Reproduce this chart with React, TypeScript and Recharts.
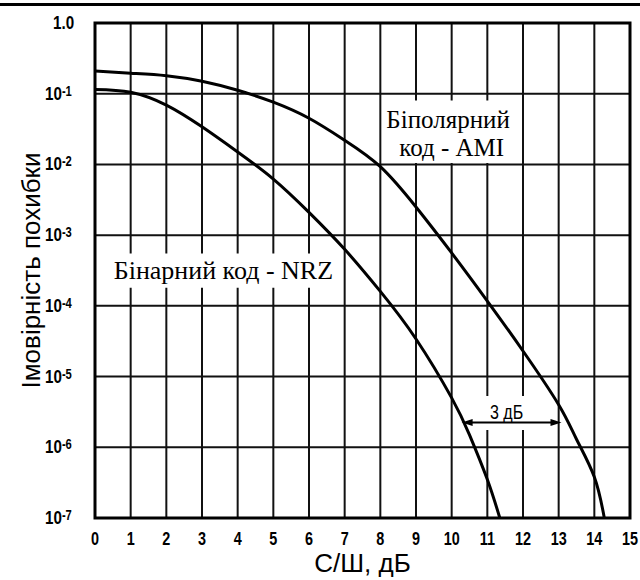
import {
  LineChart,
  Line,
  XAxis,
  YAxis,
  CartesianGrid,
  ReferenceArea,
  ReferenceDot,
  ReferenceLine,
  Label,
} from "recharts";

// С/Ш (дБ) і ймовірність похибки
const nrzSnr = [0, 1, 2, 3, 4, 5, 6, 7, 8, 9, 10, 10.5, 11, 11.35];
const nrzBer = [
  0.115, 0.105, 0.069, 0.034, 0.015, 0.0062, 0.0021, 6.3e-4, 1.6e-4, 3.4e-5,
  5.0e-6, 1.5e-6, 3.5e-7, 1.0e-7,
];

const amiSnr = [0, 1, 2, 3, 4, 5, 6, 7, 8, 9, 10, 11, 12, 13, 13.5, 14, 14.28];
const amiBer = [
  0.21, 0.195, 0.18, 0.15, 0.112, 0.076, 0.045, 0.022, 0.0093, 0.0025, 5.6e-4,
  1.17e-4, 2.3e-5, 4.0e-6, 1.3e-6, 3.8e-7, 1.0e-7,
];

const xTicks = [0, 1, 2, 3, 4, 5, 6, 7, 8, 9, 10, 11, 12, 13, 14, 15];
const yTicks = [1e-7, 1e-6, 1e-5, 1e-4, 1e-3, 1e-2, 1e-1, 1];

const nrzData = nrzSnr.map((snr, i) => ({ snr, p: nrzBer[i] }));
const amiData = amiSnr.map((snr, i) => ({ snr, p: amiBer[i] }));

const sans = "'Liberation Sans', Arial, sans-serif";
const serif = "'Liberation Serif', 'DejaVu Serif', serif";

// вузький напівжирний шрифт підписів осей (імітація Arial Narrow)
function Narrow({ x, y, anchor, size, weight = 700, children }: any) {
  return (
    <g transform={`translate(${x},${y}) scale(0.8,1)`}>
      <text
        x={0}
        y={0}
        textAnchor={anchor}
        style={{ fontFamily: sans, fontSize: size, fontWeight: weight }}
        fill="#000"
      >
        {children}
      </text>
    </g>
  );
}

function XTick({ x, payload }: any) {
  return (
    <Narrow x={x} y={545} anchor="middle" size={18}>
      {payload.value}
    </Narrow>
  );
}

function YTick({ y, payload }: any) {
  const v = payload.value;
  if (v === 1) {
    return (
      <Narrow x={53} y={y + 6} anchor="start" size={19}>
        1.0
      </Narrow>
    );
  }
  const exp = Math.round(Math.log10(v));
  return (
    <Narrow x={45} y={y + 6} anchor="start" size={19}>
      10
      <tspan style={{ fontSize: 14 }} dy={-4}>
        {exp}
      </tspan>
    </Narrow>
  );
}

function note(text: string, size: number) {
  return (p: any) => (
    <text
      x={p.cx}
      y={p.cy}
      textAnchor="middle"
      dominantBaseline="central"
      style={{ fontFamily: serif, fontSize: size }}
      fill="#000"
    >
      {text}
    </text>
  );
}

function Arrow(p: any) {
  const { x1, y1, x2, y2 } = p;
  return (
    <g>
      <line x1={x1 + 6} y1={y1} x2={x2 - 6} y2={y2} stroke="#000" strokeWidth={2} />
      <polygon points={`${x1},${y1} ${x1 + 11},${y1 - 3.5} ${x1 + 11},${y1 + 3.5}`} fill="#000" />
      <polygon points={`${x2},${y2} ${x2 - 11},${y2 - 3.5} ${x2 - 11},${y2 + 3.5}`} fill="#000" />
    </g>
  );
}

export default function App() {
  return (
    <div style={{ position: "absolute", left: 0, top: 0, width: 640, height: 580, background: "#fff" }}>
      <div style={{ position: "absolute", left: 0, top: 3, width: 640, height: 3, background: "#000" }} />
      <LineChart
        width={640}
        height={580}
        margin={{ top: 23, right: 10, bottom: 0, left: 0 }}
      >
        <CartesianGrid stroke="#111" strokeWidth={2} />
        <XAxis
          dataKey="snr"
          type="number"
          domain={[0, 15]}
          ticks={xTicks}
          height={62}
          axisLine={false}
          tickLine={false}
          tick={<XTick />}
          allowDataOverflow
        >
          <Label
            content={(p: any) => (
              <text
                x={p.viewBox.x + p.viewBox.width / 2}
                y={572}
                textAnchor="middle"
                style={{ fontFamily: sans, fontSize: 26 }}
                fill="#000"
              >
                С/Ш, дБ
              </text>
            )}
          />
        </XAxis>
        <YAxis
          type="number"
          scale="log"
          domain={[1e-7, 1]}
          ticks={yTicks}
          width={95}
          axisLine={false}
          tickLine={false}
          tick={<YTick />}
          allowDataOverflow
        >
          <Label
            content={(p: any) => {
              const cy = p.viewBox.y + p.viewBox.height / 2;
              return (
                <text
                  x={31}
                  y={cy}
                  transform={`rotate(-90, 31, ${cy})`}
                  textAnchor="middle"
                  dominantBaseline="central"
                  style={{ fontFamily: sans, fontSize: 26 }}
                  fill="#000"
                >
                  Імовірність похибки
                </text>
              );
            }}
          />
        </YAxis>

        <ReferenceArea x1={8.06} x2={11.94} y1={0.0105} y2={0.08} fill="#fff" fillOpacity={1} stroke="none" />
        <ReferenceArea x1={0.05} x2={6.95} y1={1.8e-4} y2={5.5e-4} fill="#fff" fillOpacity={1} stroke="none" />
        <ReferenceArea x1={10.5} x2={12.6} y1={1.75e-6} y2={5.3e-6} fill="#fff" fillOpacity={1} stroke="none" />
        <ReferenceArea x1={0} x2={15} y1={1e-7} y2={1} fill="none" stroke="#000" strokeWidth={3} />

        <Line data={nrzData} dataKey="p" type="natural" stroke="#000" strokeWidth={3} dot={false} isAnimationActive={false} />
        <Line data={amiData} dataKey="p" type="natural" stroke="#000" strokeWidth={3} dot={false} isAnimationActive={false} />

        <ReferenceLine segment={[{ x: 10.28, y: 2.24e-6 }, { x: 13.08, y: 2.24e-6 }]} shape={<Arrow />} />
        <ReferenceDot x={9.9} y={0.0434} shape={note("Біполярний", 25)} />
        <ReferenceDot x={10.0} y={0.0171} shape={note("код - AMI", 25)} />
        <ReferenceDot x={3.6} y={3.16e-4} shape={note("Бінарний код - NRZ", 26)} />
        <ReferenceDot x={11.54} y={3.2e-6} shape={(p: any) => (
          <Narrow x={p.cx} y={p.cy + 7} anchor="middle" size={20} weight={400}>
            3 дБ
          </Narrow>
        )} />
      </LineChart>
    </div>
  );
}
